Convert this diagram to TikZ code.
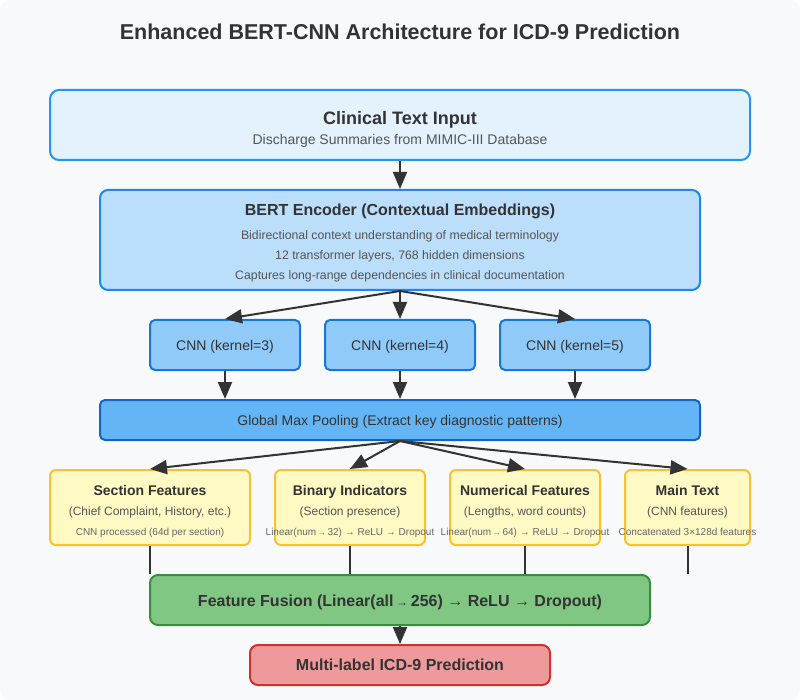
\documentclass[tikz,border=0pt]{standalone}
\usepackage{fontspec}
\setmainfont{Liberation Sans}
\usetikzlibrary{arrows.meta}
\definecolor{bgc}{HTML}{F8F9FA}
\definecolor{tc}{HTML}{333333}
\definecolor{sc}{HTML}{555555}
\definecolor{smc}{HTML}{666666}
\definecolor{f1}{HTML}{E3F2FD}\definecolor{s1}{HTML}{2196F3}
\definecolor{f2}{HTML}{BBDEFB}\definecolor{s2}{HTML}{1E88E5}
\definecolor{f3}{HTML}{90CAF9}\definecolor{s3}{HTML}{1976D2}
\definecolor{f4}{HTML}{64B5F6}\definecolor{s4}{HTML}{1565C0}
\definecolor{f5}{HTML}{FFF9C4}\definecolor{s5}{HTML}{FBC02D}
\definecolor{f6}{HTML}{81C784}\definecolor{s6}{HTML}{388E3C}
\definecolor{f7}{HTML}{EF9A9A}\definecolor{s7}{HTML}{D32F2F}
\newcommand{\fs}[1]{\fontsize{#1}{#1}\selectfont}
\tikzset{
  box/.style={draw, line width=2pt, rounded corners=6pt, inner sep=0pt, minimum width=#1},
  txt/.style={inner sep=0pt, text=tc, anchor=base},
  arr/.style={draw=tc, line width=2pt, -{Triangle[length=17pt,width=14pt]}},
  ln/.style={draw=tc, line width=2pt},
}
\begin{document}
\begin{tikzpicture}[x=1pt,y=-1pt]
\useasboundingbox (0,0) rectangle (800,700);
\fill[bgc, rounded corners=10pt] (0,0) rectangle (800,700);
\node[txt] (title) at (400,40) {\fs{21.5}\bfseries Enhanced BERT-CNN Architecture for ICD-9 Prediction};

% input
\node[box=700pt, minimum height=70pt, fill=f1, draw=s1, rounded corners=9pt] (inp) at (400,125) {};
\node[txt] (inpt) at (400,125) {\fs{18}\bfseries Clinical Text Input};
\node[txt, text=sc] (inps) at (400,145) {\fs{14}Discharge Summaries from MIMIC-III Database};

% bert
\node[box=600pt, minimum height=100pt, fill=f2, draw=s2, rounded corners=8pt] (bert) at (400,240) {};
\node[txt] (bertt) at (400,215.5) {\fs{16}\bfseries BERT Encoder (Contextual Embeddings)};
\node[txt, text=sc] (bert1) at (400,240) {\fs{12.3}Bidirectional context understanding of medical terminology};
\node[txt, text=sc] (bert2) at (400,260) {\fs{12.3}12 transformer layers, 768 hidden dimensions};
\node[txt, text=sc] (bert3) at (400,280) {\fs{12.3}Captures long-range dependencies in clinical documentation};

% cnns
\node[box=150pt, minimum height=50pt, fill=f3, draw=s3, rounded corners=5pt] (c1) at (225,345) {};
\node[box=150pt, minimum height=50pt, fill=f3, draw=s3, rounded corners=5pt] (c2) at (400,345) {};
\node[box=150pt, minimum height=50pt, fill=f3, draw=s3, rounded corners=5pt] (c3) at (575,345) {};
\node[txt] (c1t) at (225,350) {\fs{14}CNN (kernel=3)};
\node[txt] (c2t) at (400,350) {\fs{14}CNN (kernel=4)};
\node[txt] (c3t) at (575,350) {\fs{14}CNN (kernel=5)};

% pooling
\node[box=600pt, minimum height=40pt, fill=f4, draw=s4, rounded corners=5pt] (pool) at (400,420) {};
\node[txt] (poolt) at (400,425) {\fs{14}Global Max Pooling (Extract key diagnostic patterns)};

% features
\node[box=200pt, minimum height=75pt, fill=f5, draw=s5] (fa) at (150,507.5) {};
\node[box=150pt, minimum height=75pt, fill=f5, draw=s5] (fb) at (350,507.5) {};
\node[box=150pt, minimum height=75pt, fill=f5, draw=s5] (fc) at (525,507.5) {};
\node[box=125pt, minimum height=75pt, fill=f5, draw=s5] (fd) at (687.5,507.5) {};
\node[txt] (fat) at (150,495) {\fs{14}\bfseries Section Features};
\node[txt, text=sc] (fas) at (150,515) {\fs{12}(Chief Complaint, History, etc.)};
\node[txt, text=smc] (fan) at (150,535) {\fs{10}CNN processed (64d per section)};
\node[txt] (fbt) at (350,495) {\fs{14}\bfseries Binary Indicators};
\node[txt, text=sc] (fbs) at (350,515) {\fs{12}(Section presence)};
\node[txt, text=smc] (fbn) at (350,535) {\fs{10}Linear(num\,{\fs{8}→}\,32) → ReLU → Dropout};
\node[txt] (fct) at (525,495) {\fs{14}\bfseries Numerical Features};
\node[txt, text=sc] (fcs) at (525,515) {\fs{12}(Lengths, word counts)};
\node[txt, text=smc] (fcn) at (525,535) {\fs{10}Linear(num\,{\fs{8}→}\,64) → ReLU → Dropout};
\node[txt] (fdt) at (687.5,495) {\fs{14}\bfseries Main Text};
\node[txt, text=sc] (fds) at (687.5,515) {\fs{12}(CNN features)};
\node[txt, text=smc] (fdn) at (687.5,535) {\fs{10}Concatenated 3×128d features};

% fusion
\node[box=500pt, minimum height=50pt, fill=f6, draw=s6, rounded corners=8pt] (fus) at (400,600) {};
\node[txt] (fust) at (400,606) {\fs{16}\bfseries Feature Fusion (Linear(all\,{\fs{12}→}\,256) → ReLU → Dropout)};

% prediction
\node[box=300pt, minimum height=40pt, fill=f7, draw=s7, rounded corners=8pt] (pred) at (400,665) {};
\node[txt] (predt) at (400,670.5) {\fs{16}\bfseries Multi-label ICD-9 Prediction};

% connectors
\draw[arr] (inp.south) -- (bert.north);
\draw[arr] (bert.south) -- (c1.north);
\draw[arr] (bert.south) -- (c2.north);
\draw[arr] (bert.south) -- (c3.north);
\draw[arr] (c1.south) -- (c1.south |- pool.north);
\draw[arr] (c2.south) -- (pool.north);
\draw[arr] (c3.south) -- (c3.south |- pool.north);
\draw[arr] (pool.south) -- (fa.north);
\draw[arr] (pool.south) -- (fb.north);
\draw[arr] (pool.south) -- (fc.north);
\draw[arr] (pool.south) -- (fd.north);
\draw[ln] (fa.south) -- (fa.south |- fus.north);
\draw[ln] (fb.south) -- (fb.south |- fus.north);
\draw[ln] (fc.south) -- (fc.south |- fus.north);
\draw[ln] (fd.south) -- (fd.south |- fus.north);
\draw[arr] (fus.south) -- (pred.north);
\end{tikzpicture}
\end{document}
